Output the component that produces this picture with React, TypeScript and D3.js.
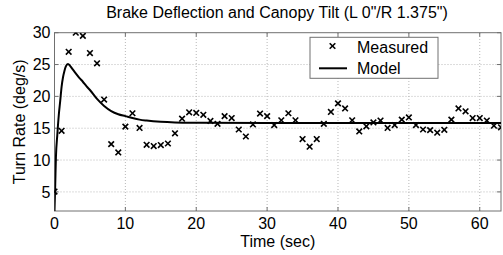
import React, { useRef, useEffect } from 'react';
import * as d3 from 'd3';

// measured turn rate, one sample per second
const measuredTime = d3.range(0, 64);
const measuredRate = [
  5.05, 14.6, 27.0, 30.0, 29.5, 26.8, 25.2, 19.5, 12.5, 11.2,
  15.25, 17.35, 15.05, 12.4, 12.2, 12.35, 12.6, 14.2, 16.5, 17.5,
  17.4, 17.1, 16.15, 15.7, 16.9, 16.6, 14.8, 13.7, 15.6, 17.3,
  16.9, 15.5, 16.25, 17.35, 16.25, 13.3, 12.1, 13.3, 15.7, 17.55,
  18.9, 18.1, 16.25, 14.5, 15.3, 15.9, 16.2, 15.05, 15.5, 16.35,
  16.7, 15.5, 14.8, 14.7, 14.3, 14.75, 16.35, 18.1, 17.65, 16.6,
  16.6, 16.2, 15.4, 15.15,
];

// model response
const modelTime = [0, 0.1, 0.2, 0.4, 0.6, 0.8, 1.0, 1.2, 1.4, 1.6, 1.9, 2.2, 2.6, 3, 3.5, 4, 4.5, 5, 6, 7, 8, 9, 10, 11, 12, 13, 15, 17, 20, 30, 40, 50, 63];
const modelRate = [2, 6, 10.4, 14, 17, 19.2, 21.5, 23, 24, 24.7, 25.1, 24.8, 24.2, 23.6, 22.9, 22.3, 21.6, 21.0, 19.6, 18.5, 17.7, 17.2, 16.9, 16.6, 16.35, 16.2, 16.0, 15.9, 15.85, 15.8, 15.8, 15.8, 15.8];

const xTicks = [0, 10, 20, 30, 40, 50, 60];
const yTicks = [5, 10, 15, 20, 25, 30];

const title = 'Brake Deflection and Canopy Tilt (L 0"/R 1.375")';
const xLabel = 'Time (sec)';
const yLabel = 'Turn Rate (deg/s)';
const legendLabels = ['Measured', 'Model'];

export default function App() {
  const svgRef = useRef<SVGSVGElement>(null);

  useEffect(() => {
    const width = 503;
    const height = 255;
    const margin = { top: 32.7, bottom: 44, left: 54.5, right: 2 };
    const font = 'Liberation Sans, Arial, Helvetica, sans-serif';

    const svg = d3.select(svgRef.current);
    svg.selectAll('*').remove();
    svg.attr('width', width).attr('height', height);

    svg.append('rect').attr('width', width).attr('height', height).attr('fill', '#fff');

    const x = d3.scaleLinear().domain([0, 63]).range([margin.left, width - margin.right]);
    const y = d3.scaleLinear().domain([2, 30]).range([height - margin.bottom, margin.top]);

    const [x0, x1] = x.range();
    const [y0, y1] = y.range();

    svg.append('defs').append('clipPath').attr('id', 'plot-clip')
      .append('rect').attr('x', x0).attr('y', y1).attr('width', x1 - x0).attr('height', y0 - y1);

    // grid
    const grid = svg.append('g').attr('stroke', '#b8b8b8').attr('stroke-width', 1).attr('stroke-dasharray', '1,2');
    grid.selectAll('.vx').data(xTicks.filter(d => d > 0)).join('line')
      .attr('x1', d => x(d)).attr('x2', d => x(d)).attr('y1', y0).attr('y2', y1);
    grid.selectAll('.hy').data(yTicks.filter(d => d < 30)).join('line')
      .attr('x1', x0).attr('x2', x1).attr('y1', d => y(d)).attr('y2', d => y(d));

    // axes box and ticks
    const axisColor = '#707070';
    svg.append('rect').attr('x', x0).attr('y', y1).attr('width', x1 - x0).attr('height', y0 - y1)
      .attr('fill', 'none').attr('stroke', axisColor).attr('stroke-width', 1);

    const ticks = svg.append('g').attr('stroke', axisColor);
    ticks.selectAll('.tx').data(xTicks).join('line')
      .attr('x1', d => x(d)).attr('x2', d => x(d)).attr('y1', y0).attr('y2', y0 - 4);
    ticks.selectAll('.tx2').data(xTicks).join('line')
      .attr('x1', d => x(d)).attr('x2', d => x(d)).attr('y1', y1).attr('y2', y1 + 4);
    ticks.selectAll('.ty').data(yTicks).join('line')
      .attr('x1', x0).attr('x2', x0 + 4).attr('y1', d => y(d)).attr('y2', d => y(d));
    ticks.selectAll('.ty2').data(yTicks).join('line')
      .attr('x1', x1).attr('x2', x1 - 4).attr('y1', d => y(d)).attr('y2', d => y(d));

    // tick labels
    svg.append('g').selectAll('text').data(xTicks).join('text')
      .attr('x', d => x(d)).attr('y', y0 + 18).attr('text-anchor', 'middle')
      .attr('font-family', font).attr('font-size', 16).attr('fill', '#000')
      .text(d => d);
    svg.append('g').selectAll('text').data(yTicks).join('text')
      .attr('x', x0 - 4).attr('y', d => y(d) + 5.7).attr('text-anchor', 'end')
      .attr('font-family', font).attr('font-size', 16).attr('fill', '#000')
      .text(d => d);

    // titles
    svg.append('text').attr('x', 277).attr('y', 18.3).attr('text-anchor', 'middle')
      .attr('font-family', font).attr('font-size', 16).text(title);
    svg.append('text').attr('x', (x0 + x1) / 2).attr('y', 247).attr('text-anchor', 'middle')
      .attr('font-family', font).attr('font-size', 16).text(xLabel);
    svg.append('text').attr('transform', `translate(24.5, ${(y0 + y1) / 2}) rotate(-90)`)
      .attr('text-anchor', 'middle').attr('font-family', font).attr('font-size', 16).text(yLabel);

    const plot = svg.append('g').attr('clip-path', 'url(#plot-clip)');

    // model line
    const line = d3.line<number>()
      .x((d, i) => x(modelTime[i]))
      .y(d => y(d))
      .curve(d3.curveMonotoneX);
    plot.append('path').datum(modelRate).attr('d', line)
      .attr('fill', 'none').attr('stroke', '#000').attr('stroke-width', 2);

    // measured markers
    const s = 2.8;
    const marker = (g: any) => {
      g.append('line').attr('x1', -s).attr('y1', -s).attr('x2', s).attr('y2', s);
      g.append('line').attr('x1', -s).attr('y1', s).attr('x2', s).attr('y2', -s);
    };
    plot.selectAll('.pt').data(measuredRate).join('g')
      .attr('transform', (d, i) => `translate(${x(measuredTime[i])}, ${y(d)})`)
      .attr('stroke', '#000').attr('stroke-width', 1.6)
      .each(function () { marker(d3.select(this)); });

    // legend
    const lg = svg.append('g');
    lg.append('rect').attr('x', 310).attr('y', 37.3).attr('width', 128).attr('height', 41)
      .attr('fill', '#fff').attr('stroke', axisColor).attr('stroke-width', 1);
    lg.append('g').attr('transform', 'translate(332.5, 46)')
      .attr('stroke', '#000').attr('stroke-width', 1.6).call(marker);
    lg.append('line').attr('x1', 319).attr('x2', 347).attr('y1', 68.3).attr('y2', 68.3)
      .attr('stroke', '#000').attr('stroke-width', 2);
    lg.selectAll('.lt').data(legendLabels).join('text')
      .attr('x', 357).attr('y', (d, i) => 52.5 + i * 21.5)
      .attr('font-family', font).attr('font-size', 16).text(d => d);
  }, []);

  return (
    <div style={{ position: 'absolute', left: 0, top: 0 }}>
      <svg ref={svgRef} style={{ display: 'block' }}></svg>
    </div>
  );
}
